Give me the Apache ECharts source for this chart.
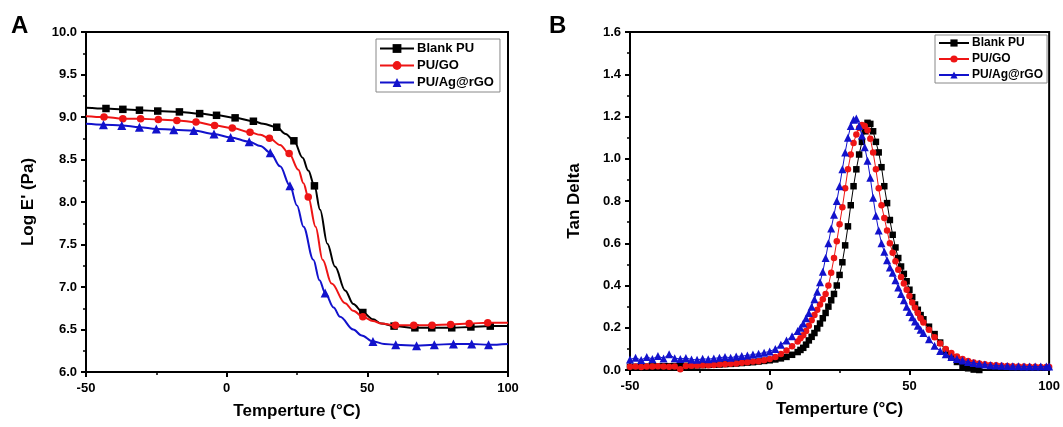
<!DOCTYPE html>
<html>
<head>
<meta charset="utf-8">
<script src="https://cdn.jsdelivr.net/npm/echarts@6/dist/echarts.min.js"></script>
<style>
  html, body { margin: 0; padding: 0; background: #fff; }
  #chart { width: 1063px; height: 427px; }
</style>
</head>
<body>
<div id="chart"></div>
<script>
// Panel A: Log E' vs temperature (markers + extra points that shape the curve)
const blankAMarkT = [-42.9, -36.9, -31.0, -24.5, -16.8, -9.6, -3.6, 3.0, 9.5, 17.8, 23.9, 31.2, 48.4, 59.5, 66.9, 72.9, 80.0, 86.8, 93.7];
const blankAMarkE = [9.10, 9.09, 9.08, 9.07, 9.06, 9.04, 9.02, 8.99, 8.95, 8.88, 8.72, 8.19, 6.70, 6.54, 6.52, 6.52, 6.52, 6.53, 6.54];
const blankACurveT = [-50, 13, 21, 27, 29, 33.2, 35.8, 38.5, 42.1, 45, 52, 55, 100];
const blankACurveE = [9.11, 8.92, 8.80, 8.52, 8.37, 7.91, 7.51, 7.24, 6.96, 6.80, 6.62, 6.57, 6.54];

const goAMarkT = [-43.6, -36.9, -30.6, -24.3, -17.7, -10.9, -4.3, 2.0, 8.3, 15.2, 22.2, 29.0, 48.4, 60.0, 66.5, 73.0, 79.6, 86.2, 92.8];
const goAMarkE = [9.00, 8.98, 8.98, 8.97, 8.96, 8.94, 8.90, 8.87, 8.82, 8.75, 8.57, 8.06, 6.65, 6.55, 6.55, 6.55, 6.56, 6.57, 6.58];
const goACurveT = [-50, 12, 19, 25.5, 27.3, 31.6, 34.1, 37.3, 42.1, 45, 52, 55, 100];
const goACurveE = [9.01, 8.79, 8.67, 8.38, 8.22, 7.71, 7.32, 7.04, 6.81, 6.72, 6.60, 6.57, 6.58];

const agAMarkT = [-43.8, -37.3, -31.0, -25.0, -18.8, -11.7, -4.5, 1.4, 8.0, 15.5, 22.5, 35.0, 52.0, 60.1, 67.5, 73.8, 80.6, 87.1, 93.1];
const agAMarkE = [8.91, 8.90, 8.88, 8.86, 8.85, 8.84, 8.80, 8.76, 8.71, 8.58, 8.19, 6.93, 6.36, 6.32, 6.31, 6.32, 6.33, 6.33, 6.32];
const agACurveT = [-50, 12, 19, 25, 27.3, 30.8, 33, 38, 40.3, 45, 48, 56, 100];
const agACurveE = [8.92, 8.66, 8.42, 7.96, 7.71, 7.32, 7.08, 6.76, 6.65, 6.50, 6.43, 6.33, 6.33];

// Panel B: tan delta vs temperature
const tempB = [-50, -48, -46, -44, -42, -40, -38, -36, -34, -32, -30, -28, -26, -24, -22, -20, -18, -16, -14, -12, -10, -8, -6, -4, -2, 0, 2, 4, 6, 8, 10,
  11, 12, 13, 14, 15, 16, 17, 18, 19, 20, 21, 22, 23, 24, 25, 26, 27, 28, 29, 30, 31, 32, 33, 34, 35, 36, 37, 38, 39, 40, 41, 42, 43, 44, 45, 46, 47, 48, 49, 50, 51, 52, 53, 54, 55,
  57, 59, 61, 63, 65, 67, 69, 71, 73, 75, 77, 79, 81, 83, 85, 87, 89, 91, 93, 95, 97, 99, 100];
const blankB = [0.015, 0.015, 0.016, 0.016, 0.017, 0.017, 0.018, 0.018, 0.019, 0.020, 0.020, 0.021, 0.022, 0.023, 0.024, 0.025, 0.026, 0.028, 0.029, 0.031, 0.033, 0.035, 0.037, 0.040, 0.043, 0.046, 0.050, 0.055, 0.062, 0.072, 0.085,
  0.095, 0.105, 0.12, 0.14, 0.157, 0.175, 0.197, 0.22, 0.245, 0.27, 0.30, 0.33, 0.36, 0.40, 0.45, 0.51, 0.59, 0.68, 0.78, 0.87, 0.95, 1.02, 1.08, 1.13, 1.17, 1.165, 1.13, 1.08, 1.03, 0.96, 0.87, 0.79, 0.71, 0.64, 0.58, 0.53, 0.49, 0.455, 0.42, 0.38, 0.345, 0.31, 0.285, 0.26, 0.24,
  0.205, 0.17, 0.13, 0.09, 0.06, 0.038, 0.02, 0.008, 0.002, 0, null, null, null, null, null, null, null, null, null, null, null, null, null];
const goB = [0.015, 0.016, 0.014, 0.017, 0.016, 0.018, 0.017, 0.015, 0.016, 0.004, 0.019, 0.020, 0.021, 0.022, 0.023, 0.024, 0.026, 0.027, 0.029, 0.031, 0.034, 0.037, 0.040, 0.042, 0.046, 0.052, 0.062, 0.076, 0.092, 0.112, 0.135,
  0.15, 0.165, 0.185, 0.21, 0.235, 0.26, 0.285, 0.31, 0.335, 0.36, 0.40, 0.46, 0.53, 0.61, 0.69, 0.77, 0.86, 0.95, 1.02, 1.075, 1.115, 1.145, 1.16, 1.155, 1.135, 1.095, 1.03, 0.95, 0.86, 0.78, 0.72, 0.66, 0.60, 0.555, 0.515, 0.475, 0.44, 0.41, 0.38, 0.35, 0.32, 0.295, 0.27, 0.245, 0.225,
  0.19, 0.155, 0.125, 0.10, 0.08, 0.064, 0.052, 0.043, 0.036, 0.031, 0.027, 0.024, 0.022, 0.020, 0.019, 0.018, 0.017, 0.016, 0.015, 0.015, 0.014, 0.014, 0.014];
const agB = [0.050, 0.058, 0.047, 0.062, 0.052, 0.066, 0.055, 0.075, 0.056, 0.052, 0.057, 0.050, 0.048, 0.053, 0.051, 0.055, 0.058, 0.062, 0.058, 0.064, 0.066, 0.069, 0.073, 0.077, 0.082, 0.088, 0.10, 0.12, 0.14, 0.16, 0.185,
  0.20, 0.22, 0.245, 0.27, 0.30, 0.335, 0.37, 0.415, 0.465, 0.53, 0.60, 0.67, 0.735, 0.80, 0.87, 0.95, 1.03, 1.10, 1.155, 1.185, 1.19, 1.155, 1.11, 1.055, 0.99, 0.91, 0.815, 0.73, 0.66, 0.60, 0.56, 0.52, 0.485, 0.46, 0.425, 0.39, 0.36, 0.33, 0.30, 0.275, 0.25, 0.23, 0.21, 0.19, 0.175,
  0.145, 0.115, 0.09, 0.075, 0.062, 0.052, 0.045, 0.038, 0.033, 0.029, 0.026, 0.023, 0.021, 0.020, 0.019, 0.018, 0.018, 0.017, 0.017, 0.016, 0.016, 0.016, 0.016];

const names = ["Blank PU", "PU/GO", "PU/Ag@rGO"];
const colors = ["#000000", "#ee1515", "#1212cc"];
const symbols = ["rect", "circle", "triangle"];

// merge marker points and curve points, third field says whether a marker is drawn
function mergeA(mT, mE, cT, cE) {
  const pts = mT.map((t, i) => [t, mE[i], 1]).concat(cT.map((t, i) => [t, cE[i], 0]));
  pts.sort((a, b) => a[0] - b[0]);
  return pts;
}

function pairB(vals) {
  const out = [];
  tempB.forEach((t, i) => { if (vals[i] !== null) out.push([t, vals[i]]); });
  return out;
}

const dataA = [
  mergeA(blankAMarkT, blankAMarkE, blankACurveT, blankACurveE),
  mergeA(goAMarkT, goAMarkE, goACurveT, goACurveE),
  mergeA(agAMarkT, agAMarkE, agACurveT, agACurveE),
];
const dataB = [pairB(blankB), pairB(goB), pairB(agB)];

const font = "Liberation Sans, Arial, sans-serif";
const lbl = {color: "#000", fontWeight: "bold", fontSize: 13, fontFamily: font};
const nameStyle = {color: "#000", fontWeight: "bold", fontSize: 17, fontFamily: font};

function xAxis(idx) {
  return {
    type: "value", gridIndex: idx, min: -50, max: 100, interval: 50,
    name: "Temperture (°C)", nameLocation: "middle", nameGap: 31,
    nameTextStyle: nameStyle,
    axisLine: {onZero: false, lineStyle: {color: "#000", width: 2}},
    axisTick: {show: true, length: 5, lineStyle: {color: "#000", width: 2}},
    minorTick: {show: true, splitNumber: 2, length: 3, lineStyle: {color: "#000", width: 1.5}},
    splitLine: {show: false},
    axisLabel: Object.assign({margin: 10}, lbl),
  };
}

function yAxis(idx, min, max, step, title, gap) {
  return {
    type: "value", gridIndex: idx, min: min, max: max, interval: step,
    name: title, nameLocation: "middle", nameGap: gap,
    nameTextStyle: nameStyle,
    axisLine: {onZero: false, lineStyle: {color: "#000", width: 2}},
    axisTick: {show: true, length: 5, lineStyle: {color: "#000", width: 2}},
    minorTick: {show: true, splitNumber: 2, length: 3, lineStyle: {color: "#000", width: 1.5}},
    splitLine: {show: false},
    axisLabel: Object.assign({margin: 9, formatter: (v) => v.toFixed(1)}, lbl),
  };
}

const chart = echarts.init(document.getElementById("chart"));

const series = [];
names.forEach((n, i) => {
  series.push({
    name: n, type: "line", xAxisIndex: 0, yAxisIndex: 0,
    data: dataA[i], smooth: 0.35, smoothMonotone: "x",
    symbol: symbols[i], symbolSize: (v) => (v[2] ? (i === 2 ? 9 : 7.5) : 0),
    showAllSymbol: true,
    lineStyle: {color: colors[i], width: 2},
    itemStyle: {color: colors[i]},
    z: 2 + i,
  });
});
names.forEach((n, i) => {
  series.push({
    name: n + " ", type: "line", xAxisIndex: 1, yAxisIndex: 1,
    data: dataB[i],
    symbol: symbols[i], symbolSize: i === 2 ? 8 : 6.5, showAllSymbol: true,
    lineStyle: {color: colors[i], width: 1},
    itemStyle: {color: colors[i]},
    z: 2 + i,
  });
});

chart.setOption({
  animation: false,
  backgroundColor: "#fff",
  graphic: [
    {type: "text", left: 11, top: 14, style: {text: "A", fontSize: 24, fontWeight: "bold", fontFamily: font, fill: "#000"}},
    {type: "text", left: 549, top: 14, style: {text: "B", fontSize: 24, fontWeight: "bold", fontFamily: font, fill: "#000"}},
  ],
  grid: [
    {left: 86, top: 32, width: 422, height: 340, show: true, borderColor: "#000", borderWidth: 2, backgroundColor: "transparent"},
    {left: 630, top: 32, width: 421, height: 338, show: true, borderColor: "#000", borderWidth: 2, backgroundColor: "transparent"},
  ],
  xAxis: [xAxis(0), xAxis(1)],
  yAxis: [
    yAxis(0, 6, 10, 0.5, "Log E' (Pa)", 49),
    yAxis(1, 0, 1.6, 0.2, "Tan Delta", 47),
  ],
  legend: [
    {
      data: names, left: 376, top: 39, orient: "vertical",
      itemWidth: 34, itemHeight: 11, itemGap: 4, padding: [3, 6, 3, 3],
      borderColor: "#888", borderWidth: 1,
      textStyle: {color: "#000", fontWeight: "bold", fontSize: 13, fontFamily: font, padding: [0, 0, 0, -2]},
    },
    {
      data: names.map((n) => n + " "), left: 935, top: 35, orient: "vertical",
      itemWidth: 30, itemHeight: 9, itemGap: 4, padding: [2, 4, 2, 3],
      borderColor: "#888", borderWidth: 1,
      formatter: (n) => n.trim(),
      textStyle: {color: "#000", fontWeight: "bold", fontSize: 12, fontFamily: font, padding: [0, 0, 0, -2]},
    },
  ],
  series: series,
});
</script>
</body>
</html>
